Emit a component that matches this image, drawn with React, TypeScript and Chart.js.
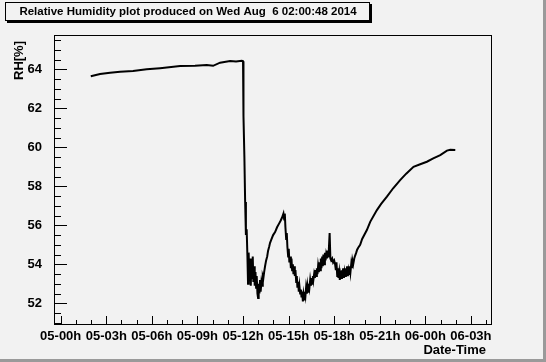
import React, { useEffect, useRef } from "react";
import { Chart, registerables } from "chart.js";

Chart.register(...registerables);

const TITLE = "Relative Humidity plot produced on Wed Aug  6 02:00:48 2014";
const Y_TITLE = "RH[%]";
const X_TITLE = "Date-Time";
const X_TICK_LABELS = ["05-00h", "05-03h", "05-06h", "05-09h", "05-12h", "05-15h", "05-18h", "05-21h", "06-00h", "06-03h"];
const X_MIN = -0.44;
const X_MAX = 28.32;
const Y_MIN = 50.94;
const Y_MAX = 65.76;

// hours since 05-00h
const HOURS = [
  1.98, 2.59, 3.25, 3.91, 4.76, 5.66, 6.54, 7.86, 8.84, 9.61, 10.03, 10.49, 11.15, 11.54, 11.92,
  12.0, 12.03, 12.09, 12.14, 12.19, 12.24, 12.29,
  12.33, 12.37, 12.42, 12.47, 12.51, 12.55, 12.6, 12.64, 12.68, 12.73, 12.77, 12.82, 12.86, 12.9, 12.95, 12.99,
  13.03, 13.08, 13.12, 13.16, 13.21, 13.26, 13.3, 13.34, 13.39, 13.45, 13.52, 13.59, 13.65, 13.72, 13.78, 13.88, 13.98,
  14.11, 14.24, 14.38, 14.48, 14.57, 14.66, 14.71, 14.75, 14.79, 14.84, 14.88, 14.92, 14.97,
  15.01, 15.05, 15.1, 15.15, 15.19, 15.23, 15.28, 15.32, 15.36, 15.41, 15.45, 15.5, 15.54, 15.58, 15.63, 15.67, 15.71, 15.76, 15.81, 15.85, 15.89, 15.94, 15.98,
  16.02, 16.07, 16.11, 16.15, 16.2, 16.24, 16.29, 16.33, 16.37, 16.42, 16.47, 16.5, 16.55, 16.6, 16.63, 16.68, 16.73, 16.77, 16.81, 16.86, 16.9, 16.94, 16.99,
  17.03, 17.08, 17.12, 17.16, 17.21, 17.25, 17.29, 17.34, 17.39, 17.43, 17.47, 17.52, 17.56, 17.6, 17.65, 17.7, 17.75, 17.8, 17.87, 17.93,
  18.0, 18.06, 18.11, 18.15, 18.2, 18.24, 18.28, 18.33, 18.37, 18.41, 18.46, 18.51, 18.54, 18.59, 18.64, 18.68, 18.72, 18.77, 18.81, 18.85, 18.9, 18.94, 18.99,
  19.03, 19.07, 19.12, 19.16, 19.2, 19.25, 19.32, 19.38, 19.45, 19.51, 19.58, 19.71, 19.84,
  20.15, 20.37, 20.81, 21.09, 21.47, 21.88, 22.34, 22.74, 23.22, 23.66, 24.1, 24.52, 24.98, 25.42, 25.64, 25.97,
];

const RH = [
  63.64, 63.76, 63.82, 63.88, 63.92, 64.0, 64.06, 64.17, 64.18, 64.22, 64.18, 64.34, 64.43, 64.4, 64.44,
  64.42, 61.6, 59.5, 57.2, 55.5, 55.8, 54.4,
  53.0, 54.6, 53.2, 54.3, 52.9, 54.0, 53.3, 54.4, 53.1, 53.9, 52.9, 53.6, 52.8, 53.4, 52.5, 52.27,
  53.0, 52.5, 53.2, 52.6, 53.1, 52.9, 53.4, 53.3, 53.6, 53.9, 54.2, 54.4, 54.7, 54.9, 55.1, 55.3, 55.5,
  55.65, 55.9, 56.1, 56.25, 56.4, 56.6, 56.3, 56.6, 55.9, 55.3, 55.6, 54.9, 54.4,
  54.8, 54.1, 54.4, 53.8, 54.3, 53.7, 54.0, 53.5, 53.9, 53.4, 53.7, 53.1, 53.4, 52.8, 53.1, 52.6, 52.9, 52.5, 52.7, 52.3, 52.6, 52.1, 52.45,
  52.2, 52.6, 52.4, 52.8, 52.5, 52.9, 52.6, 53.0, 52.8, 53.2, 52.9, 53.3, 53.0, 53.4, 53.2, 53.5, 53.3, 53.7, 53.4, 53.8, 53.5, 53.9, 53.6,
  54.1, 53.7, 54.3, 53.8, 54.4, 53.9, 54.5, 54.0, 54.6, 54.2, 54.5, 54.3, 54.7, 54.4, 54.8, 55.6, 54.3, 54.2, 54.3, 54.1,
  54.2, 54.0, 53.7, 54.1, 53.4, 53.8, 53.3, 53.6, 53.2, 53.5, 53.3, 53.7, 53.4, 53.8, 53.3, 53.6, 53.4, 53.8, 53.5, 53.9, 53.4, 53.7, 53.5,
  53.9, 53.6, 54.0, 53.8, 54.2, 54.0, 54.3, 54.45, 54.6, 54.75, 54.85, 55.0, 55.3,
  55.76, 56.18, 56.78, 57.1, 57.47, 57.9, 58.32, 58.65, 59.0, 59.13, 59.26, 59.43, 59.6, 59.83, 59.87, 59.86,
];

const BG = "#f2f2f2";
const FONT = "'Liberation Sans', Arial, sans-serif";

const rootPlugin = {
  id: "rootStyle",
  beforeDraw(chart: any) {
    const ctx = chart.ctx;
    ctx.save();
    ctx.fillStyle = BG;
    ctx.fillRect(0, 0, chart.width, chart.height);
    // canvas bevel
    ctx.fillStyle = "#9a9a9a";
    ctx.fillRect(chart.width - 3, 0, 3, chart.height);
    ctx.fillRect(0, chart.height - 3, chart.width, 3);
    ctx.restore();
  },
  afterDraw(chart: any) {
    const ctx = chart.ctx;
    const a = chart.chartArea;
    const xs = chart.scales.x;
    const ys = chart.scales.y;
    ctx.save();
    ctx.strokeStyle = "#000";
    ctx.lineWidth = 1;
    ctx.strokeRect(Math.round(a.left) + 0.5, Math.round(a.top) + 0.5, Math.round(a.right - a.left), Math.round(a.bottom - a.top));
    // y ticks (inside)
    ctx.beginPath();
    for (let i = Math.ceil(Y_MIN * 2); i <= Math.floor(Y_MAX * 2); i++) {
      const v = i / 2;
      const py = Math.round(ys.getPixelForValue(v)) + 0.5;
      const len = i % 4 === 0 ? 13 : 7;
      ctx.moveTo(a.left, py);
      ctx.lineTo(a.left + len, py);
    }
    // x ticks (inside)
    for (let h = Math.ceil(X_MIN); h <= Math.floor(X_MAX); h++) {
      const px = Math.round(xs.getPixelForValue(h)) + 0.5;
      const len = h % 3 === 0 ? 8 : 4;
      ctx.moveTo(px, a.bottom);
      ctx.lineTo(px, a.bottom - len);
    }
    ctx.stroke();

    // axis titles
    ctx.fillStyle = "#000";
    ctx.font = "bold 13px " + FONT;
    ctx.textAlign = "right";
    ctx.textBaseline = "middle";
    ctx.fillText(X_TITLE, 486, 350);
    ctx.save();
    ctx.translate(19, 41);
    ctx.rotate(-Math.PI / 2);
    ctx.textAlign = "right";
    ctx.textBaseline = "middle";
    ctx.fillText(Y_TITLE, 0, 0);
    ctx.restore();

    // title box
    ctx.fillStyle = "#000";
    ctx.fillRect(7, 4, 365, 19);
    ctx.fillStyle = BG;
    ctx.fillRect(5, 2, 365, 19);
    ctx.strokeStyle = "#000";
    ctx.strokeRect(5.5, 2.5, 364, 18);
    ctx.fillStyle = "#000";
    ctx.font = "bold 11.5px " + FONT;
    ctx.textAlign = "center";
    ctx.textBaseline = "middle";
    ctx.fillText(TITLE, 188, 12);
    ctx.restore();
  },
};

export default function App() {
  const ref = useRef<HTMLCanvasElement | null>(null);
  useEffect(() => {
    document.body.style.margin = "0";
    const canvas = ref.current!;
    const data = HOURS.map((h, i) => ({ x: h, y: RH[i] }));
    const chart = new Chart(canvas, {
      type: "line",
      data: {
        datasets: [
          {
            data,
            borderColor: "#000",
            borderWidth: 2,
            pointRadius: 0,
            tension: 0,
            fill: false,
          },
        ],
      },
      options: {
        responsive: false,
        animation: false,
        devicePixelRatio: 1,
        layout: { padding: { top: 35, right: 55, left: 0, bottom: 0 } },
        plugins: { legend: { display: false }, tooltip: { enabled: false }, title: { display: false } },
        scales: {
          x: {
            type: "linear",
            min: X_MIN,
            max: X_MAX,
            grid: { display: false },
            border: { display: false },
            ticks: {
              stepSize: 3,
              includeBounds: false,
              autoSkip: false,
              maxRotation: 0,
              padding: -3,
              color: "#000",
              font: { family: FONT, size: 13, weight: "bold" },
              callback: (v: any) => {
                const n = Number(v);
                if (n % 3 !== 0) return "";
                return X_TICK_LABELS[n / 3] ?? "";
              },
            },
            afterFit: (s: any) => {
              s.height = 38;
            },
          },
          y: {
            type: "linear",
            min: Y_MIN,
            max: Y_MAX,
            grid: { display: false },
            border: { display: false },
            ticks: {
              stepSize: 2,
              includeBounds: false,
              padding: 4,
              color: "#000",
              font: { family: FONT, size: 13, weight: "bold" },
            },
            afterFit: (s: any) => {
              s.width = 54;
            },
          },
        },
      },
      plugins: [rootPlugin],
    });
    return () => chart.destroy();
  }, []);
  return (
    <div style={{ width: 546, height: 362 }}>
      <canvas ref={ref} width={546} height={362} style={{ display: "block", width: 546, height: 362 }} />
    </div>
  );
}
